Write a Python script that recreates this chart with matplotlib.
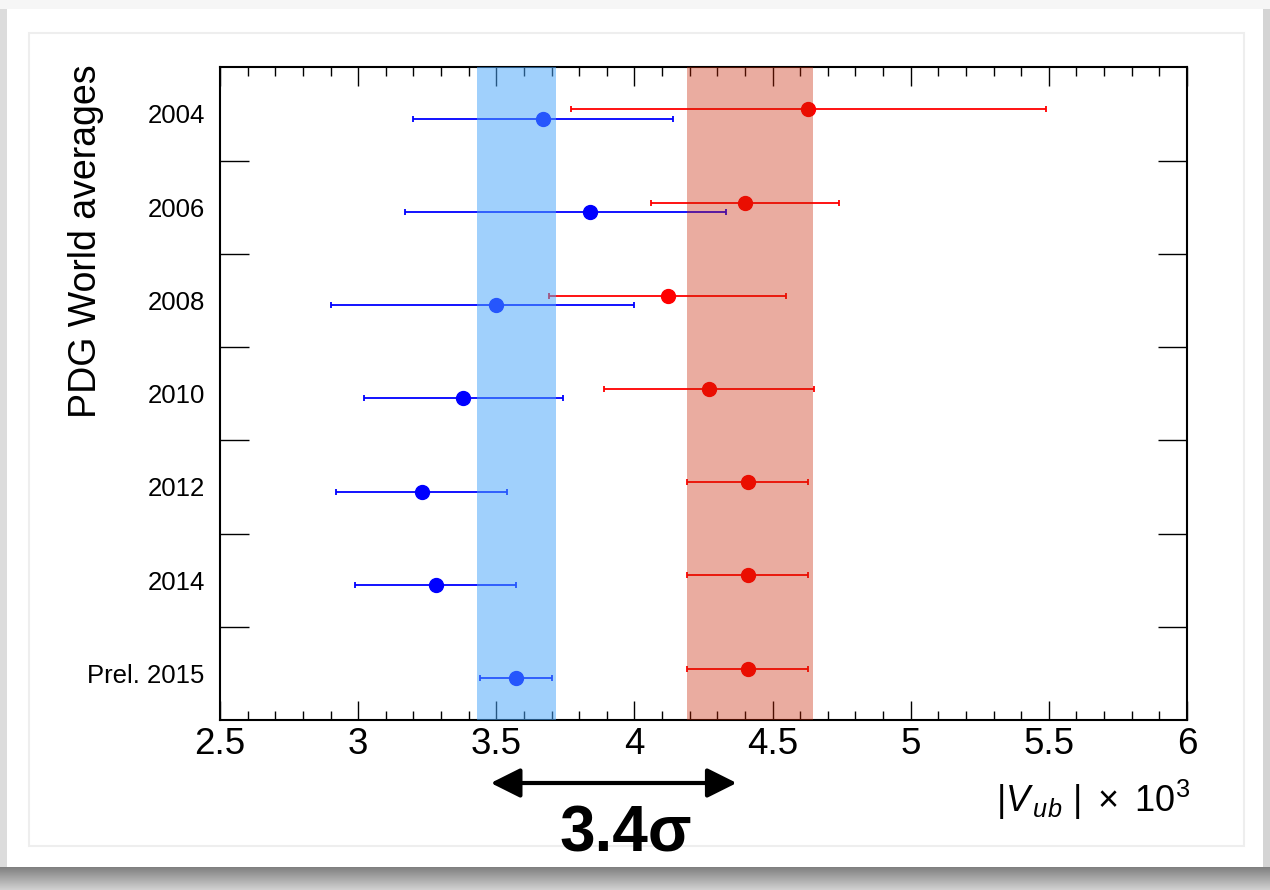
import numpy as np
import matplotlib
matplotlib.use("Agg")
import matplotlib.pyplot as plt
from matplotlib.patches import Rectangle
from matplotlib.ticker import MultipleLocator, FixedLocator
import matplotlib.transforms as mtransforms

plt.rcParams['font.family'] = ['Liberation Sans', 'DejaVu Sans']
plt.rcParams['mathtext.fontset'] = 'custom'
plt.rcParams['mathtext.rm'] = 'Liberation Sans'
plt.rcParams['mathtext.it'] = 'Liberation Sans:italic'
plt.rcParams['mathtext.bf'] = 'Liberation Sans:bold'

# ---------------- data ----------------
years = ['2004', '2006', '2008', '2010', '2012', '2014', 'Prel. 2015']
excl_val = [3.67, 3.84, 3.50, 3.38, 3.23, 3.28, 3.57]
excl_lo = [0.47, 0.67, 0.60, 0.36, 0.31, 0.29, 0.13]
excl_hi = [0.47, 0.49, 0.50, 0.36, 0.31, 0.29, 0.13]
incl_val = [4.63, 4.40, 4.12, 4.27, 4.41, 4.41, 4.41]
incl_lo = [0.86, 0.34, 0.43, 0.38, 0.22, 0.22, 0.22]
incl_hi = [0.86, 0.34, 0.43, 0.38, 0.22, 0.22, 0.22]
band_excl = (3.43, 3.715)
band_incl = (4.19, 4.645)
arrow_x = (3.48, 4.37)
tension_x = 3.97
tension_label = '3.4σ'

W, H = 1270, 890
fig = plt.figure(figsize=(W / 100, H / 100), dpi=100)
fig.patch.set_facecolor('white')

def fx(px):
    return px / W

def fy(py):
    return 1 - py / H

# ---------- screenshot frame decoration ----------
deco = dict(transform=fig.transFigure, edgecolor='none', zorder=-5)
fig.patches.append(Rectangle((0, fy(867)), fx(7), fy(0) - fy(867), facecolor='#dcdcdc', **deco))
fig.patches.append(Rectangle((fx(1263), fy(867)), fx(7), fy(0) - fy(867), facecolor='#d4d4d4', **deco))
fig.patches.append(Rectangle((0, fy(9)), 1, fy(0) - fy(9), facecolor='#f6f6f6', **deco))
sh = fig.add_axes([0, 0, 1, 23 / H], zorder=-6)
grad = np.linspace(0, 1, 50).reshape(-1, 1)
sh.imshow(np.dstack([0.50 + 0.32 * grad] * 3) * np.ones((50, 200, 3)), aspect='auto',
          extent=[0, 1, 0, 1], origin='upper')
sh.axis('off')
fig.patches.append(Rectangle((fx(29), fy(846)), fx(1244) - fx(29), fy(33) - fy(846),
                             transform=fig.transFigure, facecolor='none',
                             edgecolor='#eeeeee', lw=1.5, zorder=-5))

# ---------------- main axes ----------------
ax = fig.add_axes([fx(220), fy(720), fx(1187) - fx(220), fy(67.3) - fy(720)], zorder=1)
ax.set_facecolor('white')
ypos = np.arange(len(years))
off = 0.05

ax.errorbar(excl_val, ypos + off, xerr=[excl_lo, excl_hi], fmt='o', color='#0000ff',
            ms=10, elinewidth=1.3, capsize=2.5, capthick=1.3, zorder=2)
ax.errorbar(incl_val, ypos - off, xerr=[incl_lo, incl_hi], fmt='o', color='#ff0000',
            ms=10, elinewidth=1.3, capsize=2.5, capthick=1.3, zorder=2)

ax.axvspan(*band_excl, color='#4aa6fa', alpha=0.52, lw=0, zorder=3)
ax.axvspan(*band_incl, color='#c82505', alpha=0.38, lw=0, zorder=3)

ax.set_xlim(2.5, 6.0)
ax.set_ylim(len(years) - 0.5, -0.5)

ax.xaxis.set_major_locator(MultipleLocator(0.5))
ax.xaxis.set_minor_locator(MultipleLocator(0.1))
ax.xaxis.set_major_formatter(matplotlib.ticker.FuncFormatter(lambda v, p: f'{v:g}'))
ax.tick_params(axis='x', which='major', direction='in', length=13.7, width=1.0,
               top=True, bottom=True, labelsize=26.5, pad=5)
ax.tick_params(axis='x', which='minor', direction='in', length=6.5, width=1.0,
               top=True, bottom=True)

ax.yaxis.set_major_locator(FixedLocator(ypos))
ax.set_yticklabels(years)
ax.yaxis.set_minor_locator(FixedLocator(ypos[:-1] + 0.5))
ax.tick_params(axis='y', which='major', length=0, labelsize=18.5, pad=11)
ax.tick_params(axis='y', which='minor', direction='in', length=21, width=1.0,
               left=True, right=True)

for s in ax.spines.values():
    s.set_linewidth(1.5)
    s.set_color('black')

# ---------------- texts ----------------
fig.text(fx(86), fy(64), 'PDG World averages', rotation=90, ha='center', va='top',
         fontsize=27)
fig.text(fx(1190), fy(812), r'$|V_{\,ub}\ |\ \times\ 10^{3}$', ha='right', va='baseline',
         fontsize=26)

bt = mtransforms.blended_transform_factory(ax.transData, fig.transFigure)
ax.annotate('', xy=(arrow_x[0], fy(783)), xytext=(arrow_x[1], fy(783)),
            xycoords=bt, textcoords=bt, annotation_clip=False,
            arrowprops=dict(arrowstyle='<|-|>', lw=3, color='black',
                            mutation_scale=45, shrinkA=0, shrinkB=0))
ax.text(tension_x, fy(834), tension_label, transform=bt, ha='center',
        va='center', fontsize=46, fontweight='bold', clip_on=False)

fig.savefig('out.png', dpi=100, facecolor=fig.get_facecolor())
